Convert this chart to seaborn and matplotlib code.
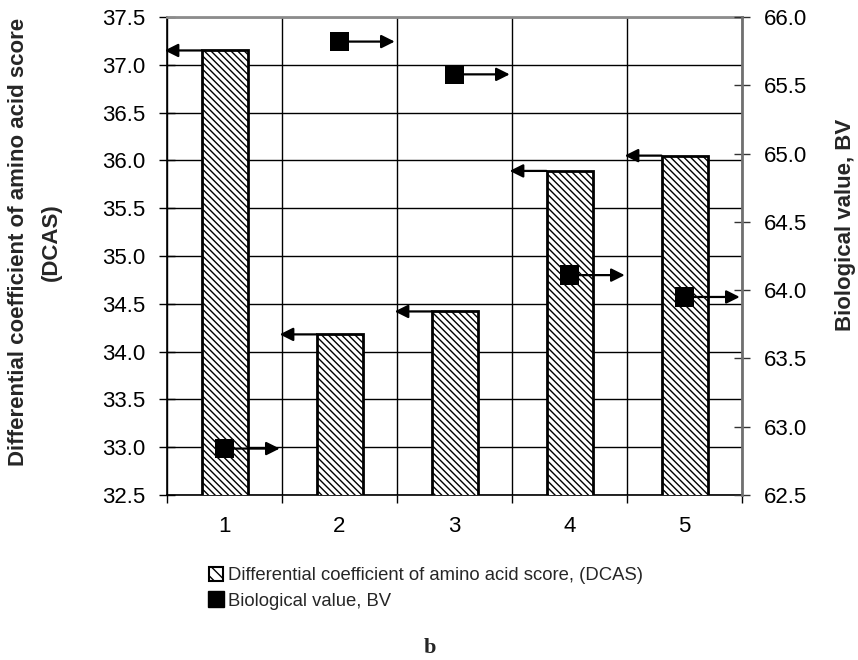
import numpy as np
import pandas as pd
import matplotlib
matplotlib.use("Agg")
import matplotlib.pyplot as plt
import seaborn as sns
from matplotlib.patches import Patch
from matplotlib.lines import Line2D

# ---- data ----
samples = [1, 2, 3, 4, 5]
dcas = [37.15, 34.18, 34.42, 35.89, 36.05]
bv = [62.84, 65.82, 65.58, 64.11, 63.95]
left_ticks = [32.5, 33.0, 33.5, 34.0, 34.5, 35.0, 35.5, 36.0, 36.5, 37.0, 37.5]
right_ticks = [62.5, 63.0, 63.5, 64.0, 64.5, 65.0, 65.5, 66.0]
left_label = "Differential coefficient of amino acid score\n(DCAS)"
right_label = "Biological value, BV"
legend_labels = ["Differential coefficient of amino acid score, (DCAS)",
                 "Biological value, BV"]
panel_label = "b"

sns.set_theme(style="white")
plt.rcParams['font.family'] = ['Liberation Sans', 'DejaVu Sans']
plt.rcParams['hatch.linewidth'] = 1.0
plt.rcParams['hatch.color'] = 'black'

HATCH = '\\\\\\\\\\'
FS = 16

fig = plt.figure(figsize=(8.58, 6.6), dpi=100)
ax = fig.add_axes([167/858, 1-495/660, 575/858, 478/660])

df = pd.DataFrame({"sample": samples, "dcas": dcas, "bv": bv})

sns.barplot(data=df, x="sample", y="dcas", native_scale=True, width=0.4,
            color="white", saturation=1, edgecolor="black", linewidth=2,
            hatch=HATCH, errorbar=None, ax=ax, zorder=3)

ax.set_xlim(0.5, 5.5)
ax.set_ylim(left_ticks[0], left_ticks[-1])
ax.set_yticks(left_ticks)
ax.set_yticklabels([f"{t:.1f}" for t in left_ticks])
ax.set_xticks(samples)
ax.set_xticklabels([str(s) for s in samples])
ax.set_xticks([s - 0.5 for s in samples] + [samples[-1] + 0.5], minor=True)
ax.set_xlabel("")
ax.set_ylabel(left_label, fontsize=FS, fontweight='bold', linespacing=1.75)
ax.yaxis.set_label_coords(-0.183, 0.529)

ax.grid(False)
ax.grid(which='minor', axis='x', color='black', lw=1)
ax.grid(which='major', axis='y', color='black', lw=1)
ax.set_axisbelow(True)

ax.tick_params(axis='y', which='major', direction='inout', length=11, width=1,
               color='black', labelsize=FS, pad=10, left=True, labelcolor='black')
ax.tick_params(axis='x', which='major', length=0, labelsize=FS, pad=15, labelcolor='black')
ax.tick_params(axis='x', which='minor', direction='out', length=6, width=1,
               color='black', bottom=True)

for s in ['left', 'bottom']:
    ax.spines[s].set_color('black')
    ax.spines[s].set_linewidth(1.2)
ax.spines['top'].set_color('#8c8c8c')
ax.spines['top'].set_linewidth(2)
ax.spines['right'].set_visible(False)

# arrows pointing to left axis from bar tops
for x, v in zip(samples, dcas):
    ax.annotate('', xy=(x - 0.52, v), xytext=(x - 0.2, v),
                arrowprops=dict(arrowstyle='-|>', color='black', lw=1.6,
                                mutation_scale=20, shrinkA=0, shrinkB=0),
                annotation_clip=False, zorder=4)

ax2 = ax.twinx()
sns.scatterplot(data=df, x="sample", y="bv", marker='s', s=200, color='black',
                edgecolor='none', ax=ax2, zorder=5, legend=False)
ax2.set_xlim(0.5, 5.5)
ax2.set_ylim(right_ticks[0], right_ticks[-1])
ax2.set_yticks(right_ticks)
ax2.set_yticklabels([f"{t:.1f}" for t in right_ticks])
ax2.set_ylabel(right_label, fontsize=FS, fontweight='bold')
ax2.yaxis.set_label_coords(1.162, 0.565)
ax2.grid(False)
ax2.tick_params(axis='y', direction='inout', length=11, width=1, color='#333333',
                labelsize=FS, pad=10, right=True, labelcolor='black')
for s in ['left', 'top', 'bottom']:
    ax2.spines[s].set_visible(False)
ax2.spines['right'].set_color('#707070')
ax2.spines['right'].set_linewidth(2)

for x, v in zip(samples, bv):
    ax2.annotate('', xy=(x + 0.48, v), xytext=(x + 0.08, v),
                 arrowprops=dict(arrowstyle='-|>', color='black', lw=1.6,
                                 mutation_scale=20, shrinkA=0, shrinkB=0),
                 annotation_clip=False, zorder=6)

handles = [Patch(facecolor='white', edgecolor='black', hatch='\\\\\\', linewidth=1.5),
           Line2D([], [], marker='s', color='black', linestyle='none', markersize=12)]
fig.legend(handles=handles, labels=legend_labels, loc='upper left',
           bbox_to_anchor=(209/858, 1-567/660), frameon=False, fontsize=13.3,
           handlelength=0.75, handleheight=0.75, handletextpad=0.3,
           labelspacing=0.45, borderaxespad=0, borderpad=0)

fig.text(430/858, 1-648/660, panel_label, ha='center', va='center',
         fontweight='bold', fontsize=16, family=['Liberation Serif', 'DejaVu Serif'])

fig.savefig("out.png", dpi=100)
